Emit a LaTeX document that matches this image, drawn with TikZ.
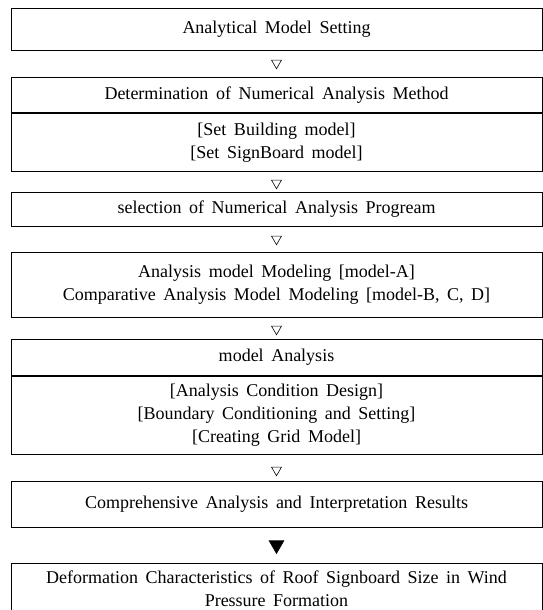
\documentclass[tikz,border=0pt]{standalone}
\usepackage{fontspec}
\setmainfont{Liberation Serif}[WordSpace=1.67]
\usetikzlibrary{shapes.geometric}
\tikzset{
  stage/.style={draw, line width=0.8pt, minimum width=531pt, anchor=north, align=center,
    inner sep=0pt, font=\fontsize{18}{23}\selectfont},
  down/.style={regular polygon, regular polygon sides=3, shape border rotate=180, draw,
    line width=0.6pt, inner sep=0pt, minimum size=11.5pt},
  bigdown/.style={down, fill=black, minimum size=17pt}
}
\begin{document}
\begin{tikzpicture}[x=1pt,y=-1pt]
\useasboundingbox (0,0) rectangle (543,610);
% boxes hang from their top edge, numbers are pixels of the page
\node[stage, minimum height=42pt] (setting) at (276.5,8) {Analytical Model Setting};
\node[down] (d1) at (276.5,63) {};
\node[stage, minimum height=35pt] (method) at (276.5,77) {Determination of Numerical Analysis Method};
\node[stage, minimum height=58pt] (methodset) at (method.south) {[Set Building model]\\ {[Set SignBoard model]}};
\node[down] (d2) at (276.5,183) {};
\node[stage, minimum height=34pt] (program) at (276.5,192) {selection of Numerical Analysis Progream};
\node[down] (d3) at (276.5,239) {};
\node[stage, minimum height=65pt] (modeling) at (276.5,252) {Analysis model Modeling [model-A]\\ Comparative Analysis Model Modeling [model-B, C, D]};
\node[down] (d4) at (276.5,329) {};
\node[stage, minimum height=36pt] (analysis) at (276.5,339) {model Analysis};
\node[stage, minimum height=78pt] (analysisset) at (analysis.south) {[Analysis Condition Design]\\ {[Boundary Conditioning and Setting]}\\ {[Creating Grid Model]}};
\node[down] (d5) at (276.5,470) {};
\node[stage, minimum height=46pt] (results) at (276.5,481) {Comprehensive Analysis and Interpretation Results};
\node[bigdown] (d6) at (276.5,545) {};
\node[stage, minimum height=50pt] (deform) at (276.5,563) {Deformation Characteristics of Roof Signboard Size in Wind\\ Pressure Formation};
\end{tikzpicture}
\end{document}
